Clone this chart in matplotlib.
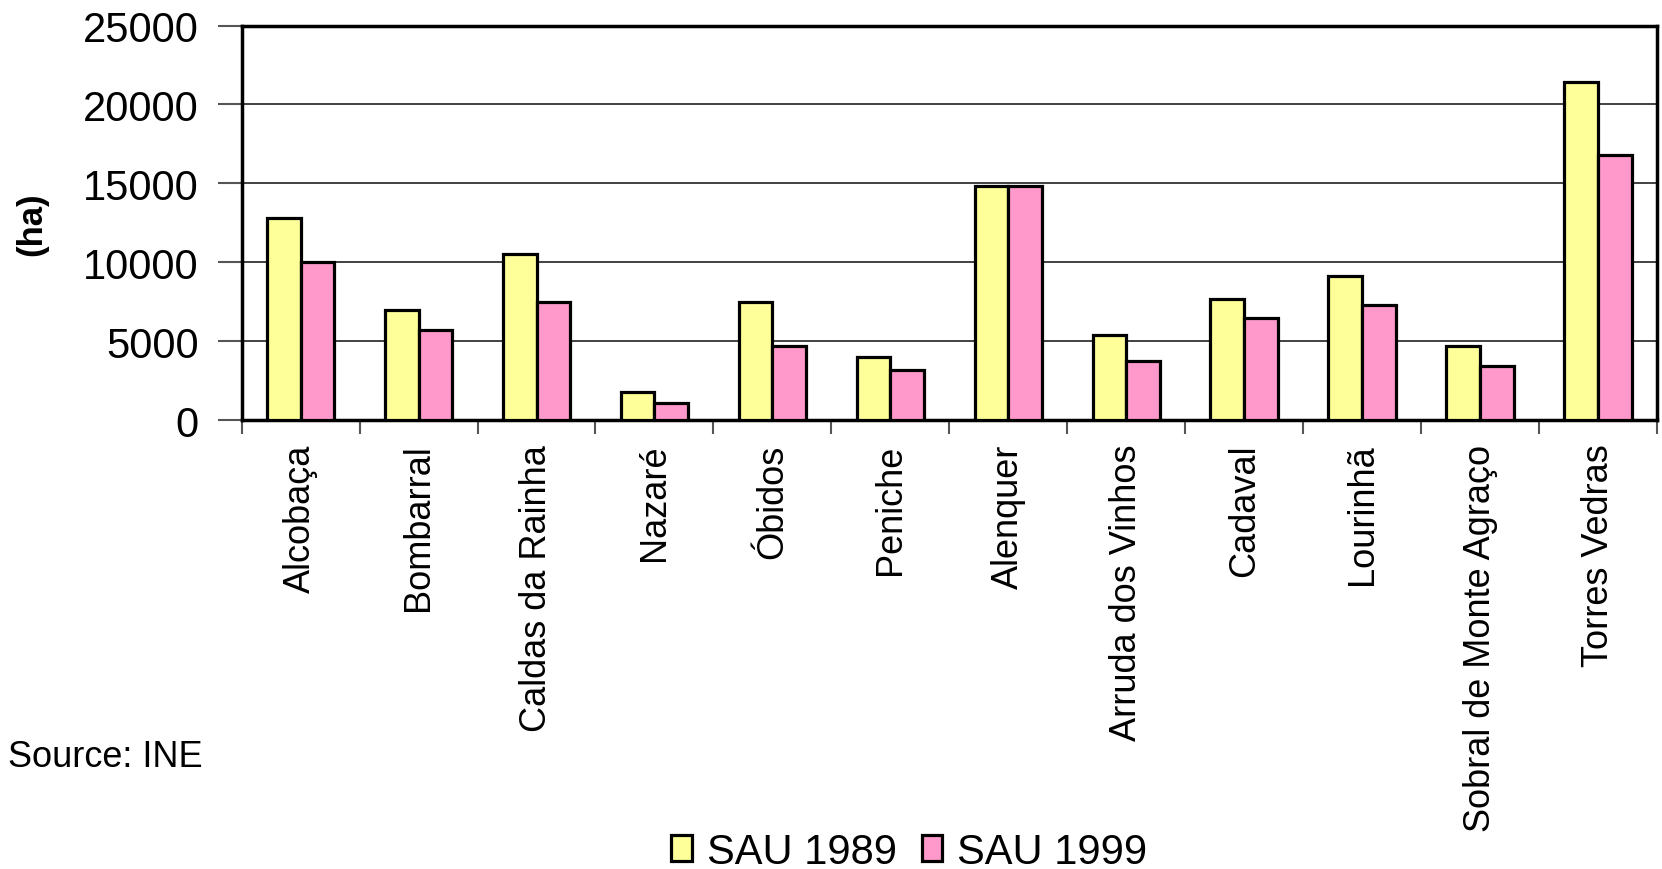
import numpy as np
import matplotlib
matplotlib.use("Agg")
import matplotlib.pyplot as plt

plt.rcParams['font.family'] = ['Liberation Sans', 'DejaVu Sans']

# dados (ha)
concelhos = ['Alcobaça', 'Bombarral', 'Caldas da Rainha', 'Nazaré', 'Óbidos',
             'Peniche', 'Alenquer', 'Arruda dos Vinhos', 'Cadaval', 'Lourinhã',
             'Sobral de Monte Agraço', 'Torres Vedras']
sau_1989 = [12800, 7000, 10500, 1800, 7500, 4000, 14850, 5400, 7650, 9150, 4700, 21450]
sau_1999 = [10000, 5700, 7500, 1100, 4700, 3200, 14850, 3750, 6450, 7300, 3450, 16800]
y_ticks = [0, 5000, 10000, 15000, 20000, 25000]

fig = plt.figure(figsize=(16.62, 8.7), dpi=100)
ax = fig.add_axes([0.1454, 0.516, 0.8516, 0.4535])

x = np.arange(len(concelhos))
w = 0.286
ax.bar(x - w / 2, sau_1989, w, color='#FFFF99', edgecolor='black', linewidth=2.3,
       label='SAU 1989', zorder=3)
ax.bar(x + w / 2, sau_1999, w, color='#FF99CC', edgecolor='black', linewidth=2.3,
       label='SAU 1999', zorder=3)

ax.set_xlim(-0.5, len(concelhos) - 0.5)
ax.set_ylim(0, 25000)
ax.set_yticks(y_ticks)
ax.set_yticklabels([str(v) for v in y_ticks], fontsize=30)
ax.yaxis.grid(True, color='#333333', linewidth=1.3, zorder=0)
ax.tick_params(axis='y', length=17, width=1.5, pad=14, color='#555555')

# ticks nos limites das categorias, rótulos no centro
ax.set_xticks(np.arange(len(concelhos) + 1) - 0.5)
ax.set_xticklabels([])
ax.set_xticks(x, minor=True)
ax.set_xticklabels(concelhos, minor=True, rotation=90, fontsize=26, va='top')
ax.tick_params(axis='x', which='major', length=10, width=1.5, color='#555555')
ax.tick_params(axis='x', which='minor', length=0, pad=17)

for s in ax.spines.values():
    s.set_linewidth(2.5)
    s.set_color('black')

fig.text(0.019, 0.742, '(ha)', rotation=90, fontsize=25, fontweight='bold',
         ha='center', va='center')
fig.text(0.005, 0.129, 'Source: INE', fontsize=26, ha='left', va='center')

fig.legend(loc='center', bbox_to_anchor=(0.547, 0.02), ncol=2, frameon=False,
           fontsize=30, handlelength=0.5, handleheight=0.6, handletextpad=0.35,
           columnspacing=0.6)

fig.savefig('out.png', dpi=100)
